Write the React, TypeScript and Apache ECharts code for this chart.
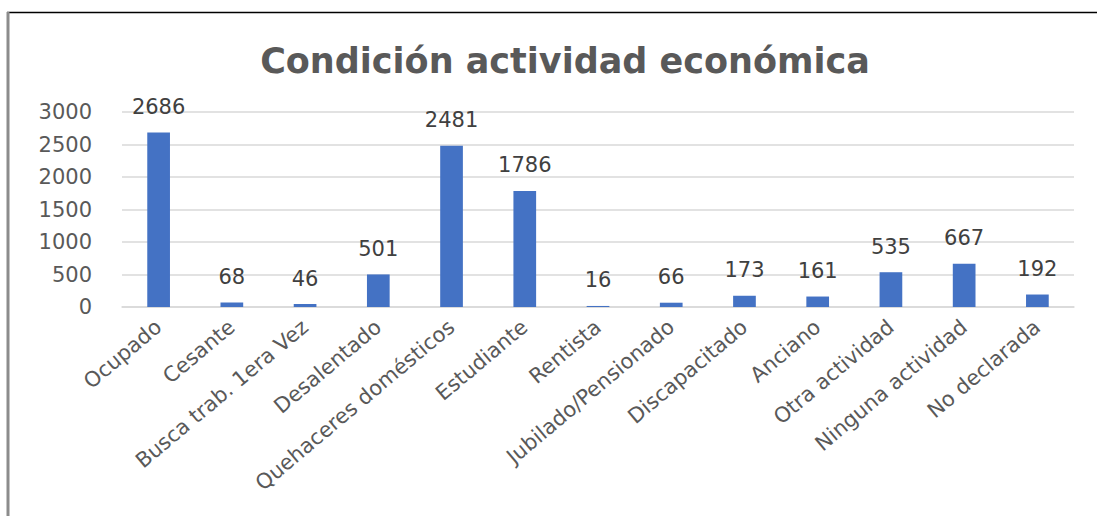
import React, { useEffect, useRef } from "react";
import * as echarts from "echarts";

const categories = [
  "Ocupado",
  "Cesante",
  "Busca trab. 1era Vez",
  "Desalentado",
  "Quehaceres domésticos",
  "Estudiante",
  "Rentista",
  "Jubilado/Pensionado",
  "Discapacitado",
  "Anciano",
  "Otra actividad",
  "Ninguna actividad",
  "No declarada",
];
const values = [2686, 68, 46, 501, 2481, 1786, 16, 66, 173, 161, 535, 667, 192];
const yTicks = [0, 500, 1000, 1500, 2000, 2500, 3000];
const titleText = "Condición actividad económica";

export default function App() {
  const ref = useRef<HTMLDivElement>(null);
  useEffect(() => {
    if (!ref.current) return;
    const chart = echarts.init(ref.current, undefined, { renderer: "svg" });
    chart.setOption({
      animation: false,
      backgroundColor: "#ffffff",
      title: {
        text: titleText,
        left: 560,
        textAlign: "center",
        top: 38,
        textStyle: {
          fontFamily: "DejaVu Sans",
          fontWeight: "bold",
          fontSize: 35,
          color: "#595959",
        },
      },
      graphic: [
        { type: "line", shape: { x1: 7, y1: 12.5, x2: 1097, y2: 12.5 }, style: { stroke: "#000", lineWidth: 1.5 } },
        { type: "line", shape: { x1: 8, y1: 12, x2: 8, y2: 516 }, style: { stroke: "#8c8c8c", lineWidth: 3 } },
      ],
      grid: { left: 122, right: 23, top: 112, bottom: 209, containLabel: false },
      xAxis: {
        type: "category",
        data: categories,
        axisTick: { show: false },
        axisLine: { lineStyle: { color: "#d9d9d9", width: 1.5 } },
        axisLabel: {
          rotate: 40,
          interval: 0,
          fontFamily: "DejaVu Sans",
          fontSize: 21,
          color: "#595959",
          margin: 17,
        },
      },
      yAxis: {
        type: "value",
        min: yTicks[0],
        max: yTicks[yTicks.length - 1],
        interval: 500,
        axisLine: { show: false },
        axisTick: { show: false },
        splitLine: { lineStyle: { color: "#d9d9d9", width: 1.5 } },
        axisLabel: {
          fontFamily: "DejaVu Sans",
          fontSize: 21,
          color: "#595959",
          margin: 30,
          formatter: (v: number) => String(v),
        },
      },
      series: [
        {
          type: "bar",
          data: values,
          barWidth: "31%",
          itemStyle: { color: "#4472C4" },
          label: {
            show: true,
            position: "top",
            distance: 15,
            fontFamily: "DejaVu Sans",
            fontSize: 21,
            color: "#404040",
          },
        },
      ],
    });
    return () => chart.dispose();
  }, []);
  return (
    <div
      ref={ref}
      style={{ position: "fixed", left: 0, top: 0, width: 1097, height: 516 }}
    />
  );
}
